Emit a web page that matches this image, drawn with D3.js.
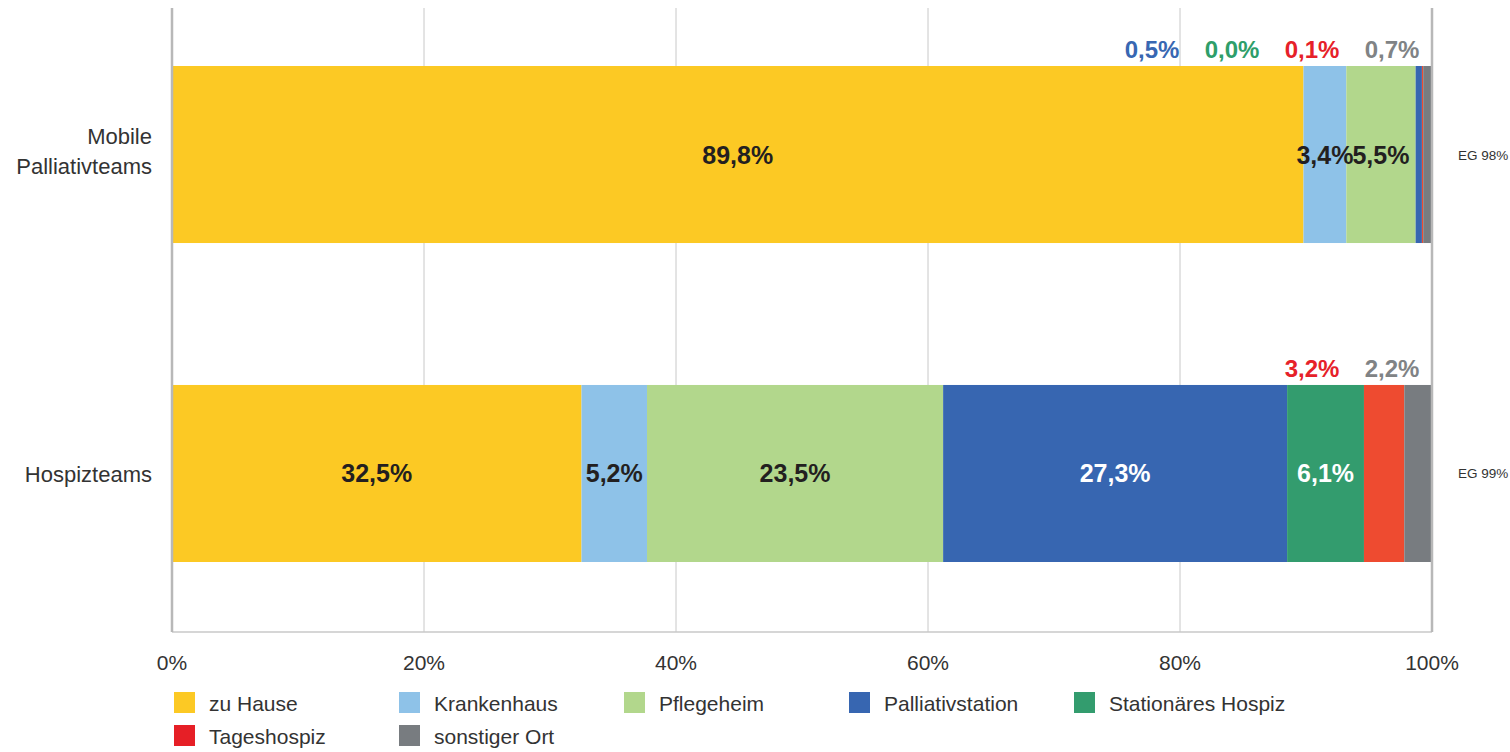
<!DOCTYPE html>
<html>
<head>
<meta charset="utf-8">
<script src="https://cdn.jsdelivr.net/npm/d3@7"></script>
<style>
  body { margin: 0; background: #fff; }
  text { font-family: "Liberation Sans", Arial, sans-serif; }
</style>
</head>
<body>
<div id="chart"></div>
<script>
// data
const groups = ["Mobile Palliativteams", "Hospizteams"];
const groupLines = [["Mobile", "Palliativteams"], ["Hospizteams"]];
const egLabels = ["EG 98%", "EG 99%"];
const categories = ["zu Hause", "Krankenhaus", "Pflegeheim", "Palliativstation",
  "Stationäres Hospiz", "Tageshospiz", "sonstiger Ort"];
const mobileValues = [89.8, 3.4, 5.5, 0.5, 0.0, 0.1, 0.7];
const hospizValues = [32.5, 5.2, 23.5, 27.3, 6.1, 3.2, 2.2];
const ticks = [0, 20, 40, 60, 80, 100];

const barColors = ["#fcc924", "#8ec2e8", "#b2d78c", "#3766b1", "#339c6e", "#ee4b30", "#787c80"];
const legendColors = ["#fcc924", "#8ec2e8", "#b2d78c", "#3766b1", "#339c6e", "#e61f26", "#787c80"];
const outsideColors = ["#231f20", "#231f20", "#231f20", "#3867b2", "#2e9e6a", "#e62129", "#808385"];
const insideText = ["#231f20", "#231f20", "#231f20", "#fff", "#fff", "#fff", "#fff"];

const width = 1510, height = 752;
const plotTop = 8, plotBottom = 632;

const svg = d3.select("#chart").append("svg")
  .attr("width", width)
  .attr("height", height);

const x = d3.scaleLinear().domain([0, 100]).range([172, 1432]);
const y = d3.scaleBand().domain(groups).range([66, 562]).paddingInner(0.445).paddingOuter(0);

// gridlines
svg.append("g").selectAll("line")
  .data(ticks.slice(1, -1))
  .enter().append("line")
    .attr("x1", d => x(d)).attr("x2", d => x(d))
    .attr("y1", plotTop).attr("y2", plotBottom)
    .attr("stroke", "#c8c8c8").attr("stroke-width", 1);

// stacked rows
const rows = [mobileValues, hospizValues].map((vals, gi) => {
  let acc = 0;
  return vals.map((v, i) => {
    const seg = { group: groups[gi], i, value: v, x0: acc, x1: acc + v };
    acc += v;
    return seg;
  });
});

rows.forEach((segs, gi) => {
  const g = svg.append("g");
  g.selectAll("rect")
    .data(segs)
    .enter().append("rect")
      .attr("x", d => x(d.x0))
      .attr("y", y(groups[gi]))
      .attr("width", d => x(d.x1) - x(d.x0))
      .attr("height", y.bandwidth())
      .attr("fill", d => barColors[d.i]);

  // labels inside the bar
  const inside = segs.filter(d => d.value >= 3.3);
  g.selectAll(".inside")
    .data(inside)
    .enter().append("text")
      .attr("class", "inside")
      .attr("x", d => (x(d.x0) + x(d.x1)) / 2)
      .attr("y", y(groups[gi]) + y.bandwidth() / 2 + 9)
      .attr("text-anchor", "middle")
      .attr("font-size", 25)
      .attr("font-weight", "bold")
      .attr("fill", d => insideText[d.i])
      .text(d => d3.format(".1f")(d.value).replace(".", ",") + "%");

  // small values stacked above the bar, right to left
  const outside = segs.filter(d => d.value < 3.3).reverse();
  g.selectAll(".outside")
    .data(outside)
    .enter().append("text")
      .attr("class", "outside")
      .attr("x", (d, k) => x(100) - 40 - k * 80)
      .attr("y", y(groups[gi]) - 8)
      .attr("text-anchor", "middle")
      .attr("font-size", 24)
      .attr("font-weight", "bold")
      .attr("fill", d => outsideColors[d.i])
      .text(d => d3.format(".1f")(d.value).replace(".", ",") + "%");

  // EG label
  svg.append("text")
    .attr("x", 1458)
    .attr("y", y(groups[gi]) + y.bandwidth() / 2 + 5)
    .attr("font-size", 13.5)
    .attr("fill", "#333")
    .text(egLabels[gi]);

  // category label
  const lines = groupLines[gi];
  const cy = y(groups[gi]) + y.bandwidth() / 2;
  svg.append("text")
    .attr("text-anchor", "end")
    .attr("font-size", 22)
    .attr("fill", "#333")
    .selectAll("tspan")
    .data(lines)
    .enter().append("tspan")
      .attr("x", 152)
      .attr("y", (d, k) => lines.length === 1 ? cy + 9 : cy - 11 + k * 30)
      .text(d => d);
});

// axis frame
svg.append("line")
  .attr("x1", x(0)).attr("x2", x(100))
  .attr("y1", plotBottom).attr("y2", plotBottom)
  .attr("stroke", "#c8c8c8").attr("stroke-width", 1.5);
[0, 100].forEach(v => {
  svg.append("line")
    .attr("x1", x(v)).attr("x2", x(v))
    .attr("y1", plotTop).attr("y2", plotBottom)
    .attr("stroke", "#b8b8b8").attr("stroke-width", 2.5);
});

// x axis tick labels
svg.append("g").selectAll("text")
  .data(ticks)
  .enter().append("text")
    .attr("x", d => x(d))
    .attr("y", 670)
    .attr("text-anchor", "middle")
    .attr("font-size", 21)
    .attr("fill", "#333")
    .text(d => d + "%");

// legend
const legend = svg.append("g").selectAll("g")
  .data(categories)
  .enter().append("g")
    .attr("transform", (d, i) => `translate(${174 + (i % 5) * 225}, ${692 + Math.floor(i / 5) * 33})`);

legend.append("rect")
  .attr("width", 21)
  .attr("height", 21)
  .attr("fill", (d, i) => legendColors[i]);

legend.append("text")
  .attr("x", 35)
  .attr("y", 19)
  .attr("font-size", 21)
  .attr("fill", "#333")
  .text(d => d);
</script>
</body>
</html>
